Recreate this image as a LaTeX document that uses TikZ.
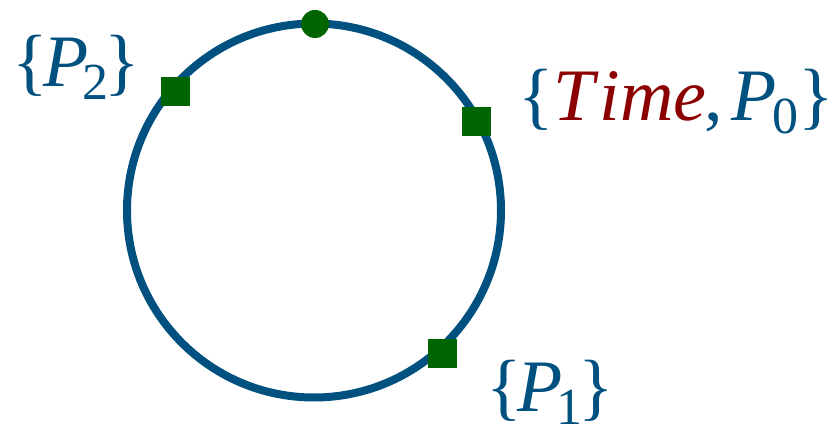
\documentclass[tikz,border=0pt]{standalone}
\usepackage{fontspec}
\setmainfont{Liberation Serif}
\newfontfamily\timesf{Liberation Serif}
\definecolor{cblue}{RGB}{0,80,128}
\definecolor{cgreen}{RGB}{0,100,0}
\definecolor{cred}{RGB}{139,0,0}
\newcommand{\subsc}[1]{\raisebox{-13pt}{\fontsize{52}{52}\selectfont\upshape #1}}
\newcommand{\lb}{\{\kern-4pt}
\newcommand{\rb}{\kern-4pt\}}
\tikzset{
  sq/.style={fill=cgreen,minimum size=29pt,inner sep=0pt,draw=none},
  lab/.style={text=cblue,anchor=base west,inner sep=0pt,font=\timesf\fontsize{74}{80}\selectfont}
}
\begin{document}
\begin{tikzpicture}[x=1pt,y=-1pt]
\useasboundingbox (0,0) rectangle (835,427);
\draw[cblue,line width=8pt] (314,210.5) circle[radius=187];
\fill[cgreen] (315,24) circle[radius=14] coordinate (top);
\node[sq] (s2) at (175.5,91.5) {};
\node[sq] (s0) at (476.5,121.5) {};
\node[sq] (s1) at (442.5,353.4) {};
\node[lab] (l2) at (12,87) {\lb\textit{P}\kern-6pt\subsc{2}\rb};
\node[lab] (l0) at (518,121) {\{\textcolor{cred}{\textit{T\kern5pt ime}}\kern-2pt,\kern8pt\textit{P}\kern-4pt\subsc{0}\}};
\node[lab] (l1) at (486,411) {\lb\textit{P}\kern-6pt\subsc{1}\rb};
\end{tikzpicture}
\end{document}
